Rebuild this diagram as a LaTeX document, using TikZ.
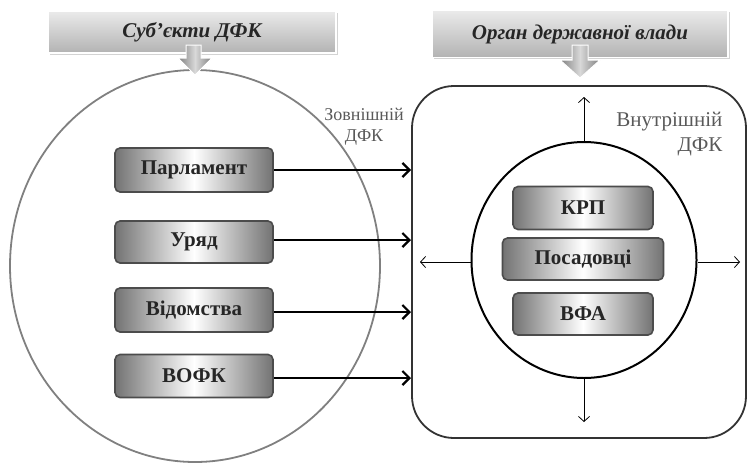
\documentclass[tikz,border=0pt]{standalone}
\usepackage{fontspec}
\setmainfont{Liberation Serif}
\usetikzlibrary{arrows.meta,shadows,shapes.geometric}
\begin{document}
\begin{tikzpicture}[x=1pt,y=-1pt,
  ibox/.style={draw=black!70,line width=1.6pt,rounded corners=5pt,left color=black!55,right color=black!55,middle color=white,font=\bfseries\fontsize{21}{24}\selectfont,text=black!85,inner sep=0pt},
  hbox/.style={draw=white,line width=1.5pt,top color=black!8,bottom color=black!30,drop shadow={opacity=0.35,shadow xshift=1.5pt,shadow yshift=-1.5pt},font=\bfseries\itshape\fontsize{21}{24}\selectfont,text=black!85,inner sep=0pt},
  harrow/.style={draw=white,line width=1pt,left color=black!50,right color=black!50,middle color=black!15},
  thick arr/.style={line width=2.6pt,-{Straight Barb[length=7pt,width=14pt,line width=2.2pt]}},
  thin arr/.style={line width=0.8pt,-{Straight Barb[length=5pt,width=11pt]}},
  lbl/.style={text=black!65,align=center}
]
\useasboundingbox (0,0) rectangle (752,464);
% left ellipse
\draw[black!50,line width=1.8pt] (195,266) ellipse [x radius=185,y radius=196];
% right rounded rectangle
\draw[black!80,line width=1.8pt,rounded corners=42pt] (412,86) rectangle (746,438);
% inner circle
\node[draw,line width=2pt,ellipse,minimum width=225pt,minimum height=236pt,inner sep=0pt] (circ) at (584,260) {};
% headers
\node[hbox,minimum width=288pt,minimum height=42pt] (h1) at (192,32) {Суб’єкти ДФК};
\node[hbox,minimum width=296pt,minimum height=47pt] (h2) at (580,34) {Орган державної влади};
% header arrows
\shade[harrow] (186,45) -- (201,45) -- (201,58) -- (212,58) -- (195,75) -- (178,58) -- (186,58) -- cycle;
\shade[harrow] (572,45) -- (588,45) -- (588,60) -- (600,60) -- (580,78) -- (560,60) -- (572,60) -- cycle;
% left boxes
\node[ibox,minimum width=158pt,minimum height=44pt] (b1) at (194,170) {Парламент};
\node[ibox,minimum width=158pt,minimum height=42pt] (b2) at (194,242) {Уряд};
\node[ibox,minimum width=158pt,minimum height=44pt] (b3) at (194,310) {Відомства};
\node[ibox,minimum width=158pt,minimum height=43pt] (b4) at (194,376) {ВОФК};
% targets on rectangle
\coordinate (t1) at (411,170);
\coordinate (t2) at (411,240);
\coordinate (t3) at (411,312);
\coordinate (t4) at (411,378);
\draw[thick arr] (b1.east) -- (t1);
\draw[thick arr] (b2.east |- t2) -- (t2);
\draw[thick arr] (b3.east |- t3) -- (t3);
\draw[thick arr] (b4.east |- t4) -- (t4);
% inner boxes
\node[ibox,minimum width=140pt,minimum height=43pt] (k1) at (583,208) {КРП};
\node[ibox,minimum width=161pt,minimum height=42pt] (k2) at (583,259) {Посадовці};
\node[ibox,minimum width=140pt,minimum height=42pt] (k3) at (583,314) {ВФА};
% inner arrows
\coordinate (up) at (584,97);
\coordinate (dn) at (584,422);
\coordinate (lf) at (420,262);
\coordinate (rt) at (740,262);
\draw[thin arr] (circ.north) -- (up);
\draw[thin arr] (circ.south) -- (dn);
\draw[thin arr] (circ.west |- lf) -- (lf);
\draw[thin arr] (circ.east |- rt) -- (rt);
% labels
\node[lbl,font=\fontsize{18}{21}\selectfont] (zl) at (364,127) {Зовнішній\\ДФК};
\node[lbl,align=right,anchor=east,font=\fontsize{21}{25}\selectfont] (vl) at (726,134) {Внутрішній\\ДФК};
\end{tikzpicture}
\end{document}
